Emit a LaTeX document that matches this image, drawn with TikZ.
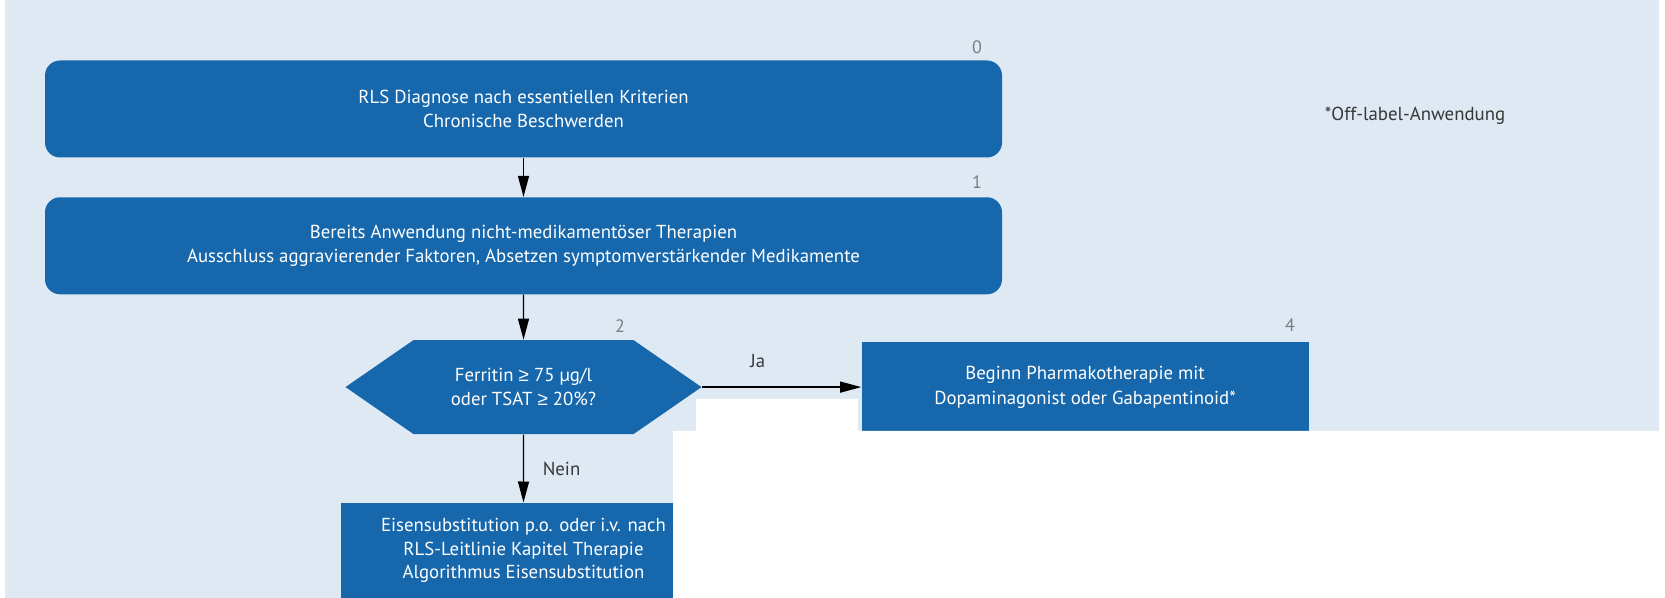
\documentclass[tikz,border=0pt]{standalone}
\usepackage{fontspec}
\setmainfont{PT Sans}
\newfontfamily\symfont{Liberation Sans}
\usetikzlibrary{positioning,shapes.symbols,arrows.meta}

\definecolor{boxblue}{RGB}{22,103,172}
\definecolor{bgblue}{RGB}{223,233,244}
\definecolor{numgray}{RGB}{125,125,125}
\definecolor{labelgray}{RGB}{55,55,55}

\newcommand{\geqsign}{{\symfont ≥}}

\tikzset{
  flowbox/.style={fill=boxblue, text=white, align=center, inner sep=0pt,
    font=\fontsize{9.4pt}{12.25pt}\selectfont},
  roundbox/.style={flowbox, rounded corners=7.5pt, minimum width=478.5pt, minimum height=48.5pt},
  squarebox/.style={flowbox, minimum width=223.5pt, minimum height=45.5pt},
  hexbox/.style={flowbox, signal, signal from=nowhere, signal to={west and east}, signal pointer angle=69.3,
    minimum width=178pt, minimum height=47pt},
  numlabel/.style={text=numgray, font=\fontsize{9pt}{11pt}\selectfont},
  armlabel/.style={text=labelgray, font=\fontsize{9.4pt}{11pt}\selectfont},
  arr/.style={-{Triangle[length=10.5pt,width=5.5pt]}, line width=0.6pt, black}
}

\begin{document}
\begin{tikzpicture}[x=0.5pt,y=-0.5pt]
 \useasboundingbox (0,0) rectangle (1665,598);

 %Background
 \fill[bgblue] (5,0) rectangle (1659,598);

 %Boxes
 \node (box0) [roundbox] at (523.5,109) {RLS Diagnose nach essentiellen Kriterien\\Chronische Beschwerden};
 \node (box1) [roundbox,below=19.5pt of box0] {Bereits Anwendung nicht-medikamentöser Therapien\\Ausschluss aggravierender Faktoren, Absetzen symptomverstärkender Medikamente};
 \node (ferritin) [hexbox,below=22.5pt of box1] {Ferritin \geqsign{} 75 µg/l\\oder TSAT \geqsign{} 20\%?};
 \node (pharma) [squarebox,right=79.5pt of ferritin] {Beginn Pharmakotherapie mit\\Dopaminagonist oder Gabapentinoid*};
 \node (eisen) [flowbox,minimum width=183pt,minimum height=47.5pt,below=34pt of ferritin,
   font=\fontsize{9.4pt}{11.75pt}\selectfont] {Eisensubstitution p.o. oder i.v. nach\\RLS-Leitlinie Kapitel Therapie\\Algorithmus Eisensubstitution};

 %Numbers
 \foreach \n/\x/\y in {0/977/47, 1/977/182, 2/620/326, 4/1290/325}
   \node (num\n) [numlabel] at (\x,\y) {\n};

 %Note
 \node (offlabel) [armlabel] at (1415,116) {*Off-label-Anwendung};

 %Arrows
 \draw[arr] (box0) -- (box1);
 \draw[arr] (box1) -- (ferritin);
 \draw[arr] (ferritin.east) -- (ferritin.east -| pharma.west) node[armlabel,midway,above=6pt,xshift=-12pt] {Ja};
 \draw[arr] (ferritin) -- (eisen) node[armlabel,midway,right=6pt] {Nein};

 %Cut
 \fill[white] (673,598) -- (673,431) -- (696,431) -- (696,399) -- (858,399) -- (858,431)
   -- (1665,431) -- (1665,598) -- cycle;

\end{tikzpicture}
\end{document}
